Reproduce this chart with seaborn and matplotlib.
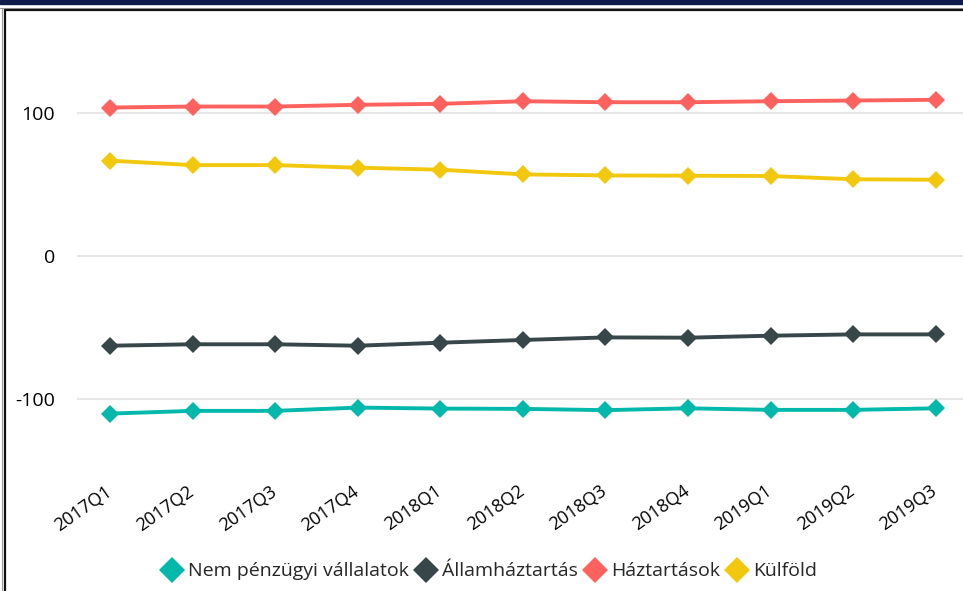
import matplotlib
matplotlib.use("Agg")
import matplotlib.pyplot as plt
import matplotlib.transforms as mtransforms
from matplotlib.lines import Line2D
from matplotlib.patches import Rectangle
import pandas as pd
import seaborn as sns

quarters = ["2017Q1", "2017Q2", "2017Q3", "2017Q4", "2018Q1", "2018Q2",
            "2018Q3", "2018Q4", "2019Q1", "2019Q2", "2019Q3"]
series_names = ["Nem pénzügyi vállalatok", "Államháztartás", "Háztartások", "Külföld"]
nem_penzugyi = [-109.9, -108.0, -108.0, -105.7, -106.4, -106.6, -107.5, -106.2, -107.3, -107.3, -106.2]
allamhaztartas = [-62.5, -61.5, -61.5, -62.5, -60.4, -58.5, -56.7, -56.9, -55.5, -54.6, -54.6]
haztartasok = [103.8, 104.5, 104.5, 105.7, 106.4, 108.2, 107.5, 107.5, 108.2, 108.7, 109.2]
kulfold = [66.7, 63.6, 63.6, 61.8, 60.4, 57.1, 56.4, 56.2, 56.0, 53.7, 53.4]
colors = ["#01B8AA", "#374649", "#FD625E", "#F2C80F"]

rows = []
for name, vals in zip(series_names, [nem_penzugyi, allamhaztartas, haztartasok, kulfold]):
    for q, v in zip(quarters, vals):
        rows.append({"quarter": q, "value": v, "series": name})
df = pd.DataFrame(rows)

sns.set_theme(style="white")
plt.rcParams["font.family"] = ["Open Sans", "DejaVu Sans"]
plt.rcParams["axes.unicode_minus"] = False

fig = plt.figure(figsize=(9.63, 5.91), dpi=100)
ax = fig.add_axes([0.08, 0.203, 0.92, 0.727])

sns.lineplot(
    data=df,
    x="quarter",
    y="value",
    hue="series",
    hue_order=series_names,
    palette=colors,
    marker="D",
    markersize=9,
    markeredgewidth=0,
    linewidth=2.8,
    sort=False,
    ax=ax,
    legend=False,
)

ax.set_xlim(-0.4, 10.33)
ax.set_ylim(-150, 150)
ax.set_yticks([-100, 0, 100])
ax.yaxis.grid(True, color="#e6e6e6", linewidth=1.4)
ax.set_axisbelow(True)
for s in ax.spines.values():
    s.set_visible(False)
ax.set_xlabel("")
ax.set_ylabel("")
ax.tick_params(axis="y", labelsize=14, pad=16, length=0, labelcolor="#000000")
ax.tick_params(axis="x", labelsize=13, pad=8, length=0, labelcolor="#000000")
ax.set_xticks(range(len(quarters)))
ax.set_xticklabels(quarters, rotation=35, ha="right", rotation_mode="anchor")
shift = mtransforms.ScaledTranslation(-4 / 72, 0, fig.dpi_scale_trans)
for lbl in ax.get_xticklabels():
    lbl.set_transform(lbl.get_transform() + shift)

handles = [Line2D([], [], linestyle="none", marker="D", markersize=13,
                  markeredgewidth=0, color=c) for c in colors]
fig.legend(handles, series_names, loc="center", bbox_to_anchor=(0.508, 0.033),
           ncol=4, frameon=False, fontsize=14, handletextpad=0.25,
           columnspacing=0.35, handlelength=1.1)

# frame: navy bar on top and double border
fig.add_artist(Rectangle((0, 1 - 4 / 591), 1, 4 / 591, transform=fig.transFigure,
                         color="#0f1a4d", zorder=10))
fig.add_artist(Line2D([0, 1], [1 - 7.5 / 591] * 2, transform=fig.transFigure,
                      color="#9a9a9a", linewidth=0.8))
fig.add_artist(Line2D([5 / 963, 1], [1 - 9.5 / 591] * 2, transform=fig.transFigure,
                      color="#111111", linewidth=1.6))
fig.add_artist(Line2D([1.5 / 963] * 2, [0, 1 - 7.5 / 591], transform=fig.transFigure,
                      color="#9a9a9a", linewidth=0.8))
fig.add_artist(Line2D([5 / 963] * 2, [0, 1 - 9.5 / 591], transform=fig.transFigure,
                      color="#111111", linewidth=1.6))

fig.savefig("out.png", dpi=100)
